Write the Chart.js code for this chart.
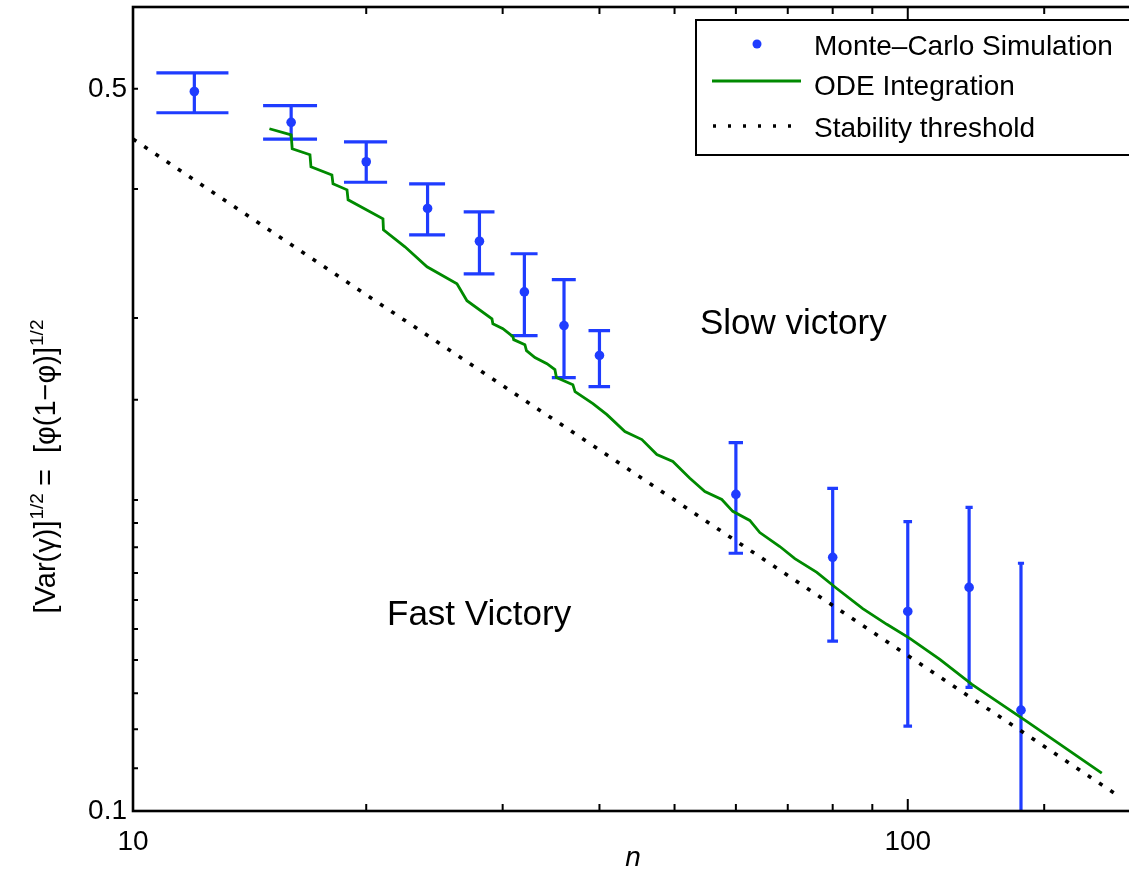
<!DOCTYPE html>
<html>
<head>
<meta charset="utf-8">
<script src="https://cdn.jsdelivr.net/npm/chart.js@4/dist/chart.umd.min.js"></script>
<style>
html,body{margin:0;padding:0;overflow:hidden;background:#fff;width:1129px;height:872px}
canvas{display:block}
</style>
</head>
<body>
<canvas id="c" width="1160" height="872"></canvas>
<script>
// ---- data ----
const seriesLabels = ['Monte\u2013Carlo Simulation', 'ODE Integration', 'Stability threshold'];

const mcN    = [12, 16, 20, 24, 28, 32, 36, 40, 60, 80, 100, 120, 140];
const mcMean = [0.497, 0.464, 0.425, 0.383, 0.356, 0.318, 0.295, 0.276, 0.2025, 0.176, 0.156, 0.1646, 0.1252];
const mcLow  = [0.474, 0.447, 0.406, 0.361, 0.331, 0.2885, 0.2627, 0.2575, 0.1776, 0.146, 0.1208, 0.1317, 0.077];
const mcHigh = [0.518, 0.4816, 0.4443, 0.4046, 0.380, 0.3462, 0.3268, 0.2917, 0.2273, 0.2052, 0.1906, 0.1967, 0.1737];

const odeN = [15, 16, 16.05, 16.92, 16.97, 18.06, 18.12, 18.89, 18.95, 21.02, 21.05, 22.44, 23.96, 26.19, 26.98,
  29.06, 29.14, 30.02, 30.93, 31.0, 32.05, 32.2, 33.02, 34.22, 35.04, 35.2, 36.96, 37.2, 39.23, 40.9, 43.14,
  45.38, 47.44, 49.75, 52.33, 54.72, 57.54, 59.45, 62.53, 64.42, 68.37, 71.49, 76.32, 80.98, 87.48, 93.96,
  100.6, 110.0, 121.0, 142.4, 178.0];
const odeV = [0.4574, 0.4513, 0.4375, 0.4317, 0.4202, 0.4127, 0.4046, 0.3992, 0.3904, 0.3742, 0.3651, 0.3516,
  0.3363, 0.3238, 0.3118, 0.2995, 0.2962, 0.2930, 0.2878, 0.2859, 0.2827, 0.2790, 0.2747, 0.2710, 0.2674,
  0.2627, 0.2586, 0.2546, 0.2479, 0.2419, 0.2329, 0.2288, 0.2213, 0.2179, 0.2099, 0.2038, 0.2002, 0.1950,
  0.1911, 0.1860, 0.1803, 0.1755, 0.1702, 0.1642, 0.1570, 0.1516, 0.1469, 0.1402, 0.1326, 0.1221, 0.1088];

const thrN = [10, 20, 50, 100, 185];
const thrV = [0.447, 0.316, 0.200, 0.1414, 0.104];

const xTickLabels = ['10', '100'];
const yTickLabels = ['0.1', '0.5'];
const xRange = [10, 200];
const yRange = [0.1, 0.6];

// ---- styles ----
const BLUE = '#1f3cff';
const GREEN = '#008a00';
const FONT = '"Liberation Sans", Arial, Helvetica, sans-serif';

function pickLabel(v, list) {
  for (const s of list) {
    const t = parseFloat(s);
    if (Math.abs(v - t) < 1e-9 * Math.max(1, Math.abs(t))) return s;
  }
  return '';
}

const decor = {
  id: 'decor',
  beforeDatasetsDraw(chart) {
    const {ctx, chartArea: a, scales: {x, y}} = chart;
    ctx.save();
    ctx.beginPath();
    ctx.rect(a.left, a.top, a.right - a.left, a.bottom - a.top);
    ctx.clip();
    ctx.strokeStyle = BLUE;
    ctx.lineWidth = 3.2;
    const tee = (Math.max(...mcN) - Math.min(...mcN)) / 100;
    mcN.forEach((n, i) => {
      const px = x.getPixelForValue(n);
      const pl = x.getPixelForValue(n - tee);
      const pr = x.getPixelForValue(n + tee);
      const yl = y.getPixelForValue(mcLow[i]);
      const yh = y.getPixelForValue(mcHigh[i]);
      ctx.beginPath();
      ctx.moveTo(px, yl); ctx.lineTo(px, yh);
      ctx.moveTo(pl, yl); ctx.lineTo(pr, yl);
      ctx.moveTo(pl, yh); ctx.lineTo(pr, yh);
      ctx.stroke();
    });
    ctx.restore();
  },
  afterDraw(chart) {
    const {ctx, chartArea: a, scales: {x, y}} = chart;
    ctx.save();
    // axes box
    ctx.strokeStyle = '#000';
    ctx.lineWidth = 2.6;
    ctx.strokeRect(a.left, a.top, a.right - a.left, a.bottom - a.top);
    // inward ticks
    ctx.lineWidth = 2;
    const isMajor = v => Math.abs(Math.log10(v) - Math.round(Math.log10(v))) < 1e-9;
    x.ticks.forEach(t => {
      const px = x.getPixelForValue(t.value);
      const len = isMajor(t.value) ? 12 : 7;
      ctx.beginPath();
      ctx.moveTo(px, a.bottom); ctx.lineTo(px, a.bottom - len);
      ctx.moveTo(px, a.top); ctx.lineTo(px, a.top + len);
      ctx.stroke();
    });
    y.ticks.forEach(t => {
      const py = y.getPixelForValue(t.value);
      const len = isMajor(t.value) ? 9 : 5;
      ctx.beginPath();
      ctx.moveTo(a.left, py); ctx.lineTo(a.left + len, py);
      ctx.moveTo(a.right, py); ctx.lineTo(a.right - len, py);
      ctx.stroke();
    });

    // x title
    ctx.fillStyle = '#000';
    ctx.font = 'italic 28px ' + FONT;
    ctx.textAlign = 'center';
    ctx.textBaseline = 'alphabetic';
    ctx.fillText('n', (a.left + a.right) / 2 - 4, 866);

    // y title with superscripts
    const segs = [
      ['[Var(\u03b3)]', 0], ['1/2', 1], [' =  [\u03c6(1\u2212\u03c6)]', 0], ['1/2', 1]
    ];
    const mainF = '29px ' + FONT, supF = '19px ' + FONT;
    let total = 0;
    segs.forEach(s => { ctx.font = s[1] ? supF : mainF; total += ctx.measureText(s[0]).width; });
    ctx.translate(55, 467);
    ctx.rotate(-Math.PI / 2);
    ctx.textAlign = 'left';
    let cx = -total / 2;
    segs.forEach(s => {
      ctx.font = s[1] ? supF : mainF;
      ctx.fillText(s[0], cx + (s[1] ? 1 : 0), s[1] ? -12 : 0);
      cx += ctx.measureText(s[0]).width;
    });
    ctx.setTransform(1, 0, 0, 1, 0, 0);

    // region annotations
    ctx.font = '35px ' + FONT;
    ctx.textAlign = 'left';
    ctx.fillText('Slow victory', 700, 334);
    ctx.fillText('Fast Victory', 387, 625);

    // legend
    const lx = 696, ly = 20, lw = 452, lh = 135;
    ctx.fillStyle = '#fff';
    ctx.fillRect(lx, ly, lw, lh);
    ctx.strokeStyle = '#000';
    ctx.lineWidth = 2;
    ctx.strokeRect(lx, ly, lw, lh);
    const ds = chart.data.datasets;
    ctx.fillStyle = ds[0].pointBackgroundColor;
    ctx.beginPath(); ctx.arc(757, 44, 4.5, 0, Math.PI * 2); ctx.fill();
    ctx.strokeStyle = ds[1].borderColor; ctx.lineWidth = ds[1].borderWidth;
    ctx.beginPath(); ctx.moveTo(712, 81); ctx.lineTo(801, 81); ctx.stroke();
    ctx.strokeStyle = ds[2].borderColor; ctx.lineWidth = ds[2].borderWidth;
    ctx.setLineDash([3, 12]);
    ctx.beginPath(); ctx.moveTo(713, 126); ctx.lineTo(801, 126); ctx.stroke();
    ctx.setLineDash([]);
    ctx.fillStyle = '#000';
    ctx.font = '28px ' + FONT;
    ctx.textAlign = 'left';
    ctx.fillText(ds[0].label, 814, 55);
    ctx.fillText(ds[1].label, 814, 95);
    ctx.fillText(ds[2].label, 814, 137);
    ctx.restore();
  }
};

new Chart(document.getElementById('c'), {
  type: 'line',
  data: {
    datasets: [
      {
        label: seriesLabels[0],
        data: mcN.map((n, i) => ({x: n, y: mcMean[i]})),
        showLine: false,
        pointRadius: 4.8,
        pointBackgroundColor: BLUE,
        pointBorderColor: BLUE,
        pointBorderWidth: 0,
        borderColor: BLUE,
        order: 3
      },
      {
        label: seriesLabels[1],
        data: odeN.map((n, i) => ({x: n, y: odeV[i]})),
        borderColor: GREEN,
        borderWidth: 2.8,
        pointRadius: 0,
        tension: 0,
        fill: false,
        order: 2
      },
      {
        label: seriesLabels[2],
        data: thrN.map((n, i) => ({x: n, y: thrV[i]})),
        borderColor: '#000',
        borderWidth: 3.6,
        borderDash: [4, 9.5],
        pointRadius: 0,
        tension: 0,
        fill: false,
        order: 1
      }
    ]
  },
  options: {
    responsive: false,
    animation: false,
    events: [],
    layout: {padding: {top: 7, right: 19, bottom: 0, left: 0}},
    plugins: {legend: {display: false}, tooltip: {enabled: false}},
    scales: {
      x: {
        type: 'logarithmic',
        min: xRange[0], max: xRange[1],
        grid: {display: false, drawTicks: false},
        border: {display: false},
        afterFit: s => { s.height = 61; s.paddingLeft = 0; s.paddingRight = 0; },
        ticks: {
          autoSkip: false, maxRotation: 0, minRotation: 0, padding: 14,
          color: '#000', font: {family: FONT, size: 28},
          callback: v => pickLabel(v, xTickLabels)
        }
      },
      y: {
        type: 'logarithmic',
        min: yRange[0], max: yRange[1],
        grid: {display: false, drawTicks: false},
        border: {display: false},
        afterFit: s => { s.width = 133; s.paddingTop = 0; s.paddingBottom = 0; },
        ticks: {
          autoSkip: false, padding: 6,
          color: '#000', font: {family: FONT, size: 28},
          callback: v => pickLabel(v, yTickLabels)
        }
      }
    }
  },
  plugins: [decor]
});
</script>
</body>
</html>
